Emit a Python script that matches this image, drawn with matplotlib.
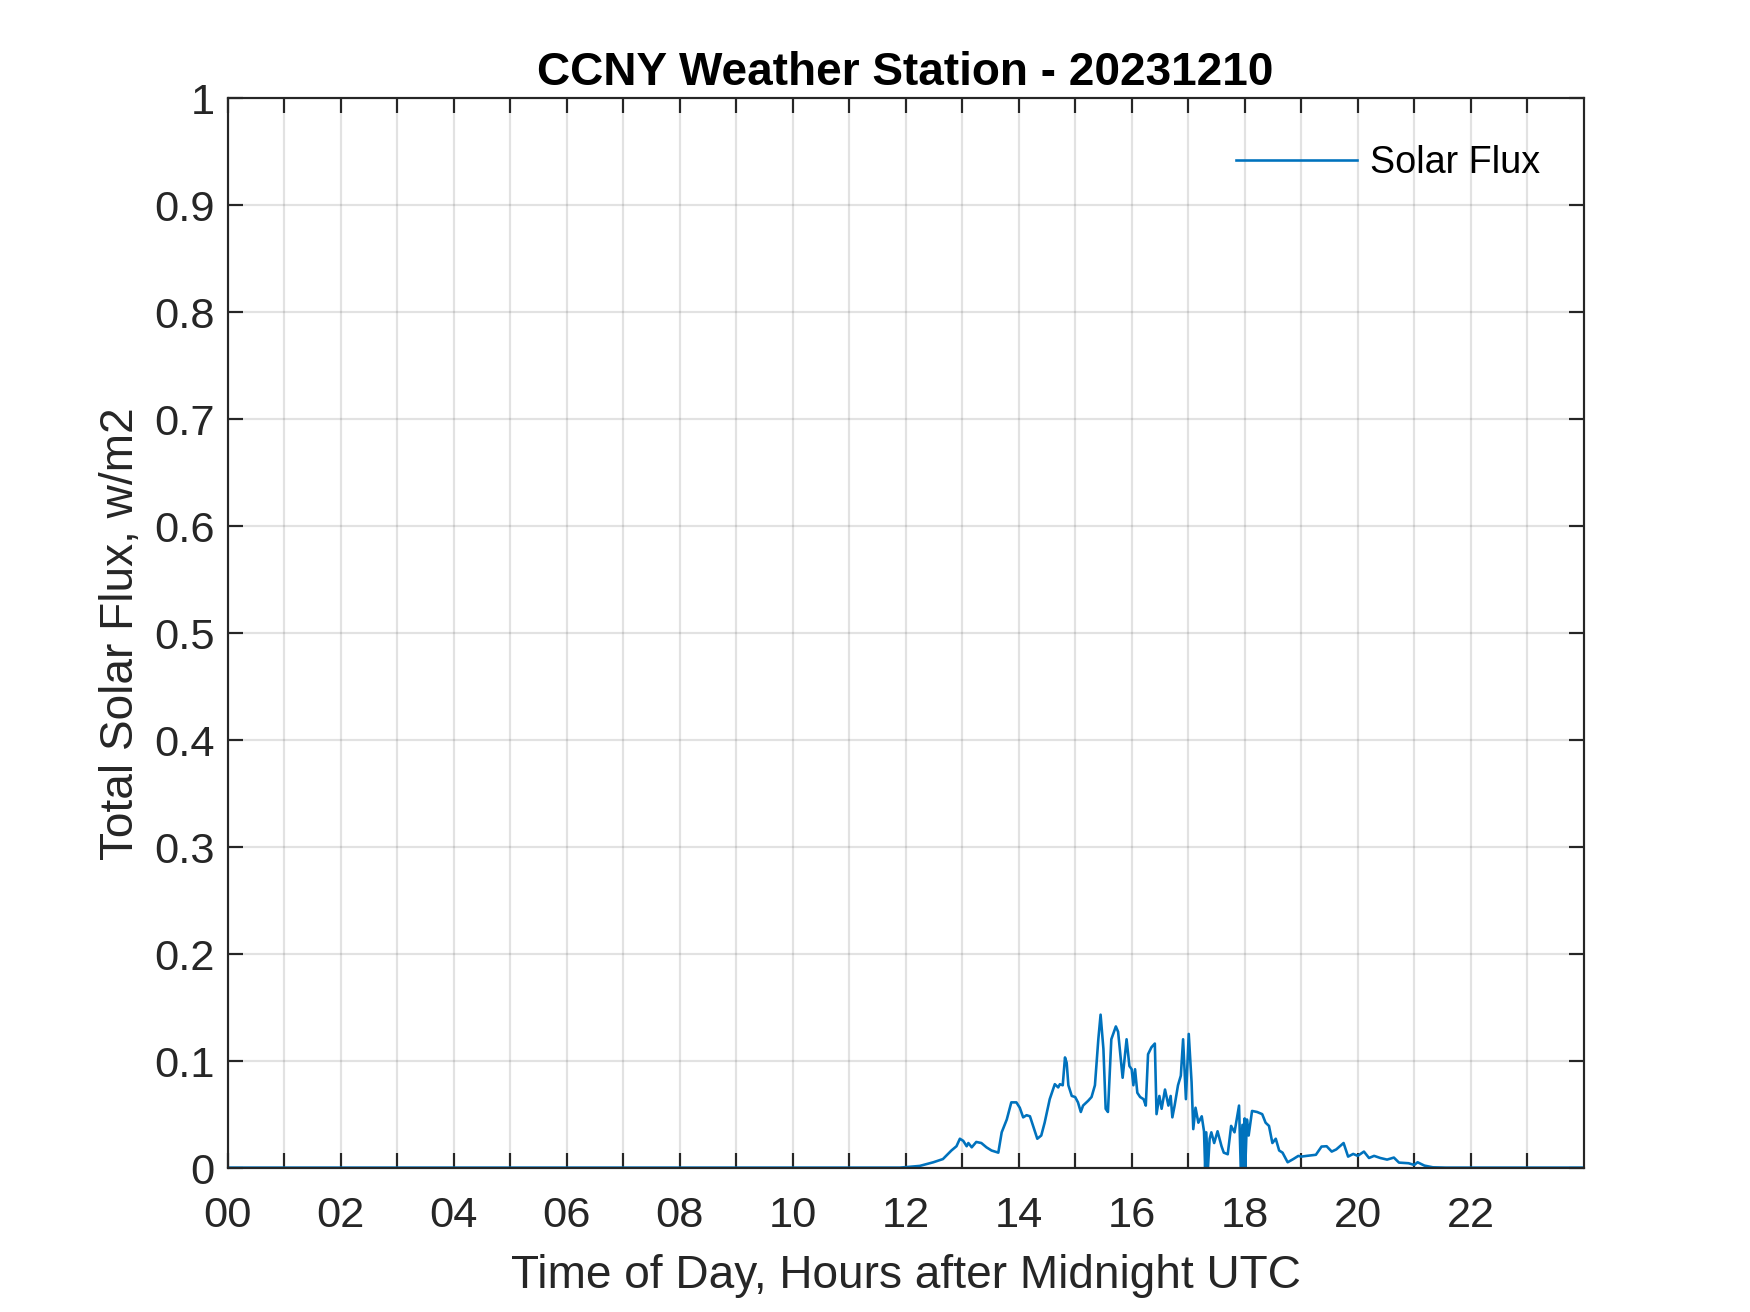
#!/usr/bin/env python3

import numpy as np
import matplotlib.pyplot as plt

hours = [0.0, 11.9, 12.25, 12.49, 12.66, 12.81, 12.9, 12.96, 13.02, 13.08, 13.11,
         13.17, 13.25, 13.34, 13.43, 13.52, 13.64, 13.7, 13.79, 13.87, 13.96,
         14.02, 14.08, 14.14, 14.2, 14.33, 14.4, 14.46, 14.55, 14.64, 14.7,
         14.73, 14.78, 14.82, 14.85, 14.88, 14.94, 15.0, 15.05, 15.1, 15.14,
         15.23, 15.29, 15.35, 15.41, 15.45, 15.5, 15.54, 15.58, 15.64, 15.72,
         15.76, 15.84, 15.91, 15.96, 16.0, 16.03, 16.06, 16.1, 16.15, 16.21,
         16.25, 16.29, 16.35, 16.41, 16.44, 16.49, 16.53, 16.59, 16.65, 16.69,
         16.72, 16.76, 16.82, 16.87, 16.91, 16.96, 17.01, 17.06, 17.09, 17.13,
         17.18, 17.24, 17.28, 17.3, 17.32, 17.35, 17.38, 17.41, 17.46, 17.52,
         17.59, 17.63, 17.7, 17.76, 17.82, 17.9, 17.93, 17.96, 17.98, 18.0,
         18.01, 18.04, 18.07, 18.13, 18.22, 18.31, 18.37, 18.43, 18.49, 18.55,
         18.61, 18.67, 18.76, 18.86, 18.95, 19.0, 19.1, 19.26, 19.36, 19.45,
         19.54, 19.62, 19.75, 19.83, 19.92, 20.0, 20.11, 20.2, 20.29, 20.4,
         20.52, 20.64, 20.73, 20.9, 21.0, 21.06, 21.18, 21.33, 21.56, 23.98]

flux = [0.0, 0.0, 0.0016, 0.005, 0.008, 0.016, 0.02, 0.027, 0.025, 0.02, 0.023,
        0.019, 0.024, 0.023, 0.019, 0.016, 0.014, 0.033, 0.045, 0.061, 0.061,
        0.056, 0.047, 0.049, 0.048, 0.027, 0.03, 0.042, 0.064, 0.078, 0.075,
        0.078, 0.077, 0.103, 0.098, 0.077, 0.067, 0.066, 0.061, 0.052, 0.058,
        0.0625, 0.066, 0.077, 0.12, 0.143, 0.111, 0.055, 0.052, 0.12, 0.132,
        0.127, 0.084, 0.12, 0.095, 0.092, 0.077, 0.092, 0.07, 0.066, 0.064,
        0.058, 0.106, 0.1125, 0.116, 0.05, 0.067, 0.055, 0.073, 0.058, 0.067,
        0.047, 0.058, 0.077, 0.086, 0.12, 0.064, 0.125, 0.08, 0.036, 0.056,
        0.042, 0.048, 0.034, 0.0, 0.033, 0.0, 0.027, 0.033, 0.023, 0.034,
        0.02, 0.014, 0.0125, 0.039, 0.033, 0.058, 0.0, 0.04, 0.0, 0.046,
        0.0, 0.045, 0.03, 0.053, 0.052, 0.05, 0.042, 0.039, 0.023, 0.027,
        0.016, 0.014, 0.005, 0.008, 0.011, 0.0103, 0.011, 0.012, 0.0197, 0.02,
        0.0150, 0.017, 0.023, 0.0103, 0.0128, 0.011, 0.015, 0.009, 0.011, 0.009,
        0.0075, 0.0094, 0.0047, 0.0041, 0.0025, 0.005, 0.0019, 0.0003, 0.0, 0.0]

xticks = np.arange(0, 24, 1)
xlabels = ['%02d' % h if h % 2 == 0 else '' for h in xticks]
yticks = np.arange(0, 1.01, 0.1)
ylabels = ['0', '0.1', '0.2', '0.3', '0.4', '0.5', '0.6', '0.7', '0.8', '0.9', '1']

plt.rcParams['font.family'] = ['Liberation Sans', 'DejaVu Sans']
fig = plt.figure(figsize=(5.6, 4.2), dpi=312.5)
ax = fig.add_axes([0.13, 0.11, 0.775, 0.815])

ax.plot(hours, flux, color='#0072BD', lw=0.6, label='Solar Flux')
ax.set_xlim(0, 24)
ax.set_ylim(0, 1)
ax.set_xticks(xticks)
ax.set_xticklabels(xlabels)
ax.set_yticks(yticks)
ax.set_yticklabels(ylabels)
ax.grid(True, color='#262626', alpha=0.13, lw=0.5)
ax.tick_params(direction='in', top=True, right=True, length=3.5, width=0.5,
               labelsize=10, colors='#262626')
ax.tick_params(axis='x', pad=6.5)
ax.tick_params(axis='y', pad=3)
for s in ax.spines.values():
    s.set_linewidth(0.5)
    s.set_color('#262626')

ax.set_xlabel('Time of Day, Hours after Midnight UTC', fontsize=10.6, color='#262626',
              labelpad=4)
ax.set_ylabel('Total Solar Flux, w/m2', fontsize=10.6, color='#262626', labelpad=2.5)
ax.set_title('CCNY Weather Station - 20231210', fontsize=10.6, fontweight='bold', pad=3)
ax.legend(loc='upper right', frameon=False, fontsize=8.7, handlelength=3.2,
          handletextpad=0.35, bbox_to_anchor=(0.993, 0.988))

fig.savefig('out.png', dpi=312.5)
